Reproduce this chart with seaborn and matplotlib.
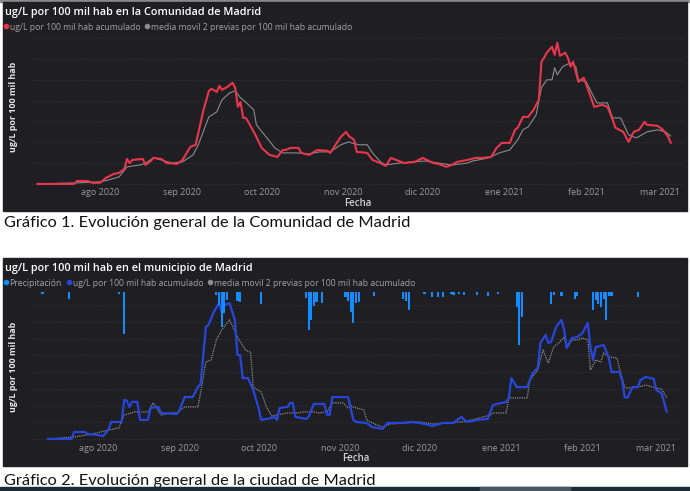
import pandas as pd
import matplotlib.pyplot as plt
from matplotlib.lines import Line2D
from matplotlib.patches import Rectangle
import seaborn as sns

# Style
sns.set_style("dark")
plt.rcParams['font.family'] = ['Open Sans', 'DejaVu Sans']

# ---------------- data ----------------
month_ticks = ["2020-08-01", "2020-09-01", "2020-10-01", "2020-11-01",
               "2020-12-01", "2021-01-01", "2021-02-01", "2021-03-01"]
month_labels = ["ago 2020", "sep 2020", "oct 2020", "nov 2020",
                "dic 2020", "ene 2021", "feb 2021", "mar 2021"]

# Grafico 1 - Comunidad de Madrid
com_fechas = ["2020-07-08", "2020-07-22", "2020-07-23", "2020-07-27", "2020-07-29", "2020-07-31",
              "2020-08-01", "2020-08-03", "2020-08-06", "2020-08-08", "2020-08-10", "2020-08-11",
              "2020-08-12", "2020-08-13", "2020-08-17", "2020-08-18", "2020-08-20", "2020-08-21",
              "2020-08-24", "2020-08-26", "2020-08-30", "2020-09-01", "2020-09-04", "2020-09-06",
              "2020-09-07", "2020-09-09", "2020-09-11", "2020-09-12", "2020-09-14", "2020-09-15",
              "2020-09-16", "2020-09-18", "2020-09-20", "2020-09-21", "2020-09-22", "2020-09-23",
              "2020-09-24", "2020-09-25", "2020-09-27", "2020-09-29", "2020-10-01", "2020-10-04",
              "2020-10-07", "2020-10-09", "2020-10-10", "2020-10-12", "2020-10-15", "2020-10-16",
              "2020-10-19", "2020-10-22", "2020-10-26", "2020-10-27", "2020-10-29", "2020-10-31",
              "2020-11-02", "2020-11-03", "2020-11-05", "2020-11-06", "2020-11-10", "2020-11-12",
              "2020-11-15", "2020-11-17", "2020-11-19", "2020-11-21", "2020-11-24", "2020-11-28",
              "2020-12-01", "2020-12-05", "2020-12-07", "2020-12-10", "2020-12-12", "2020-12-14",
              "2020-12-18", "2020-12-21", "2020-12-24", "2020-12-27", "2020-12-29", "2020-12-31",
              "2021-01-03", "2021-01-05", "2021-01-06", "2021-01-08", "2021-01-10", "2021-01-12",
              "2021-01-14", "2021-01-15", "2021-01-16", "2021-01-17", "2021-01-19", "2021-01-20",
              "2021-01-21", "2021-01-22", "2021-01-24", "2021-01-25", "2021-01-26", "2021-01-27",
              "2021-01-28", "2021-01-29", "2021-01-31", "2021-02-01", "2021-02-04", "2021-02-07",
              "2021-02-09", "2021-02-11", "2021-02-12", "2021-02-15", "2021-02-17", "2021-02-18",
              "2021-02-19", "2021-02-21", "2021-02-23", "2021-02-24", "2021-02-28", "2021-03-02",
              "2021-03-04", "2021-03-05"]
com_acumulado = [0, 0, 1.4, 1.4, 0.5, 0.5,
                 0.7, 2.9, 4.8, 5.3, 7.2, 12,
                 10, 11.5, 12, 9.1, 11, 12.5,
                 12, 10, 9.6, 11.5, 17.8, 18.8,
                 24.5, 35.6, 44.7, 45.7, 44.2, 47.1,
                 45.2, 46.6, 48.6, 46, 37, 39.4,
                 31.7, 31.7, 27.4, 22.6, 17.3, 13.9,
                 13, 16.3, 16.3, 17.3, 17.3, 14.9,
                 13.9, 16.3, 15.9, 14.9, 18.8, 22.6,
                 25, 23, 21.2, 15.4, 14.9, 11.5,
                 10, 8.7, 12.5, 11.5, 10, 10.6,
                 12.5, 10, 9.6, 8.2, 9.1, 10.6,
                 11.5, 12.5, 12.5, 13, 17.3, 19.7,
                 19.7, 26, 27, 32.2, 32.2, 35.6,
                 40.4, 58.7, 60.6, 63, 65.9, 62,
                 67.8, 61.5, 63, 60.6, 56.3, 58.7,
                 53.8, 49, 51, 47.6, 37, 38,
                 37, 30.8, 27, 25, 20.2, 22.6,
                 25, 26, 29.8, 28.4, 27.9, 26,
                 22.6, 19.7]

com_media_fechas = ["2020-07-08", "2020-07-23", "2020-08-01", "2020-08-04", "2020-08-08", "2020-08-11",
                    "2020-08-16", "2020-08-18", "2020-08-21", "2020-08-24", "2020-08-28", "2020-09-01",
                    "2020-09-05", "2020-09-07", "2020-09-11", "2020-09-14", "2020-09-16", "2020-09-19",
                    "2020-09-21", "2020-09-23", "2020-09-24", "2020-09-28", "2020-09-29", "2020-10-03",
                    "2020-10-06", "2020-10-09", "2020-10-14", "2020-10-19", "2020-10-23", "2020-10-27",
                    "2020-10-31", "2020-11-03", "2020-11-04", "2020-11-07", "2020-11-10", "2020-11-12",
                    "2020-11-15", "2020-11-17", "2020-11-22", "2020-11-27", "2020-12-02", "2020-12-07",
                    "2020-12-12", "2020-12-18", "2020-12-20", "2020-12-26", "2020-12-30", "2021-01-03",
                    "2021-01-06", "2021-01-08", "2021-01-10", "2021-01-13", "2021-01-15", "2021-01-17",
                    "2021-01-19", "2021-01-20", "2021-01-21", "2021-01-23", "2021-01-26", "2021-01-28",
                    "2021-01-29", "2021-02-01", "2021-02-03", "2021-02-05", "2021-02-09", "2021-02-11",
                    "2021-02-14", "2021-02-17", "2021-02-20", "2021-02-24", "2021-02-28", "2021-03-03",
                    "2021-03-05"]
com_media = [0, 0.5, 1, 1.9, 3.4, 8.2,
             9.1, 10, 12.5, 11.5, 10, 10.6,
             13.9, 18.8, 32.2, 34.6, 40.4, 43.8,
             44.7, 41.3, 40.4, 35.6, 28.4, 22.1,
             17.3, 14.9, 14.9, 14.4, 15.4, 15.4,
             18.8, 20.2, 19.7, 18.8, 18.8, 14.9,
             10.6, 9.1, 10, 10.6, 11, 10,
             9.1, 10, 11, 12.5, 14.9, 16.3,
             21.2, 26, 27.4, 33.2, 46.2, 50,
             50, 55.8, 52.4, 56.3, 58.2, 56.3,
             50, 49, 43.8, 38.9, 38.9, 31.7,
             31.7, 23.6, 22.1, 25, 26, 25,
             23]

# Grafico 2 - municipio de Madrid
mun_fechas = ["2020-07-13", "2020-07-22", "2020-07-23", "2020-07-27", "2020-07-28", "2020-08-01",
              "2020-08-03", "2020-08-05", "2020-08-06", "2020-08-10", "2020-08-11", "2020-08-12",
              "2020-08-13", "2020-08-14", "2020-08-16", "2020-08-17", "2020-08-20", "2020-08-21",
              "2020-08-24", "2020-08-25", "2020-08-31", "2020-09-01", "2020-09-03", "2020-09-06",
              "2020-09-08", "2020-09-09", "2020-09-11", "2020-09-12", "2020-09-14", "2020-09-16",
              "2020-09-17", "2020-09-18", "2020-09-20", "2020-09-22", "2020-09-23", "2020-09-24",
              "2020-09-25", "2020-09-27", "2020-09-29", "2020-10-01", "2020-10-02", "2020-10-06",
              "2020-10-07", "2020-10-08", "2020-10-09", "2020-10-12", "2020-10-13", "2020-10-14",
              "2020-10-15", "2020-10-19", "2020-10-20", "2020-10-22", "2020-10-26", "2020-10-27",
              "2020-10-28", "2020-10-29", "2020-11-04", "2020-11-06", "2020-11-07", "2020-11-11",
              "2020-11-13", "2020-11-17", "2020-11-19", "2020-11-24", "2020-11-28", "2020-12-01",
              "2020-12-03", "2020-12-06", "2020-12-10", "2020-12-14", "2020-12-17", "2020-12-19",
              "2020-12-23", "2020-12-27", "2020-12-28", "2020-12-29", "2021-01-03", "2021-01-04",
              "2021-01-05", "2021-01-07", "2021-01-11", "2021-01-13", "2021-01-15", "2021-01-16",
              "2021-01-18", "2021-01-19", "2021-01-20", "2021-01-22", "2021-01-24", "2021-01-25",
              "2021-01-26", "2021-01-28", "2021-01-30", "2021-02-01", "2021-02-03", "2021-02-04",
              "2021-02-05", "2021-02-06", "2021-02-09", "2021-02-11", "2021-02-12", "2021-02-15",
              "2021-02-16", "2021-02-17", "2021-02-18", "2021-02-20", "2021-02-22", "2021-02-23",
              "2021-02-25", "2021-02-28", "2021-03-01", "2021-03-03", "2021-03-05"]
mun_acumulado = [0, 0, 4.2, 4.2, 3, 2.4,
                 1.8, 5.4, 10.2, 10.2, 23.4, 23,
                 19.2, 22.2, 22.2, 11.4, 11.4, 18.6,
                 19.2, 15.6, 15, 17.4, 25.1, 25.1,
                 31.1, 33, 67, 68.3, 76, 81.4,
                 76, 80.2, 81.4, 71.3, 50.3, 50.3,
                 36.5, 36.5, 29.3, 18.6, 11.4, 12.6,
                 13.2, 11.4, 18.6, 19.2, 21.6, 21.6,
                 13.2, 12, 13.2, 21, 21, 14.4,
                 14.4, 25.1, 25.1, 11.4, 10.2, 9.6,
                 7.2, 6, 9.6, 9.6, 10.2, 9.6,
                 9, 7.8, 9.6, 9.6, 13.2, 10.2,
                 11.4, 12, 16.2, 20.4, 22.2, 24.6,
                 36.5, 31.1, 31.1, 39.5, 42.5, 57.5,
                 62.3, 57.5, 58, 67, 71.3, 65.3,
                 54.5, 60.5, 61, 63.5, 69.5, 55,
                 47.3, 55, 56.3, 48.5, 40.1, 40.1,
                 35.3, 25.1, 24.6, 31.1, 31.1, 35.3,
                 37.1, 36, 29.3, 27.5, 16.2]

mun_media_fechas = ["2020-07-13", "2020-07-23", "2020-07-30", "2020-08-05", "2020-08-09", "2020-08-11",
                    "2020-08-15", "2020-08-20", "2020-08-22", "2020-08-25", "2020-08-29", "2020-08-31",
                    "2020-09-03", "2020-09-08", "2020-09-09", "2020-09-11", "2020-09-13", "2020-09-15",
                    "2020-09-17", "2020-09-20", "2020-09-22", "2020-09-23", "2020-09-26", "2020-09-28",
                    "2020-09-29", "2020-10-02", "2020-10-04", "2020-10-06", "2020-10-08", "2020-10-12",
                    "2020-10-16", "2020-10-18", "2020-10-22", "2020-10-24", "2020-10-27", "2020-10-29",
                    "2020-11-02", "2020-11-04", "2020-11-05", "2020-11-07", "2020-11-10", "2020-11-11",
                    "2020-11-14", "2020-11-17", "2020-11-20", "2020-11-26", "2020-12-01", "2020-12-06",
                    "2020-12-12", "2020-12-17", "2020-12-21", "2020-12-28", "2020-12-29", "2021-01-03",
                    "2021-01-04", "2021-01-11", "2021-01-12", "2021-01-15", "2021-01-17", "2021-01-19",
                    "2021-01-21", "2021-01-23", "2021-01-25", "2021-01-26", "2021-01-28", "2021-01-30",
                    "2021-02-01", "2021-02-03", "2021-02-04", "2021-02-06", "2021-02-08", "2021-02-09",
                    "2021-02-11", "2021-02-14", "2021-02-16", "2021-02-17", "2021-02-18", "2021-02-22",
                    "2021-02-25", "2021-03-01", "2021-03-03", "2021-03-05"]
mun_media = [0, 1.2, 3, 5.4, 6.6, 14.4,
             16.2, 16.2, 21.6, 14.4, 15.6, 15.6,
             19.2, 19.2, 27.5, 46.1, 47.3, 59.3,
             65.3, 71.3, 64.7, 61, 53.3, 52,
             31.1, 28.1, 19.2, 13.8, 14.4, 15.6,
             15.6, 16.2, 16.2, 15.6, 16.2, 21.6,
             21.6, 18.6, 19.8, 18.6, 17.4, 11.4,
             9, 7.2, 9, 9.6, 10.2, 9,
             9.6, 10.2, 11.4, 14.4, 15.6, 15.6,
             24.6, 24.6, 35.3, 41.3, 53.3, 45.5,
             55, 57.5, 61, 54.5, 59.3, 59.3,
             60.5, 59.3, 41.3, 47.3, 46.1, 51.5,
             49.1, 48.5, 36.5, 31.1, 30.5, 31.1,
             32.3, 30.5, 30, 24.6]

precip_fechas = ["2020-07-11", "2020-07-21", "2020-08-09", "2020-08-11", "2020-09-15", "2020-09-16",
                 "2020-09-17", "2020-09-18", "2020-09-19", "2020-09-23", "2020-09-24", "2020-10-02",
                 "2020-10-19", "2020-10-20", "2020-10-21", "2020-10-22", "2020-10-23", "2020-10-25",
                 "2020-11-03", "2020-11-04", "2020-11-05", "2020-11-06", "2020-11-07", "2020-11-08",
                 "2020-11-14", "2020-11-25", "2020-11-26", "2020-11-27", "2020-12-03", "2020-12-06",
                 "2020-12-08", "2020-12-10", "2020-12-13", "2020-12-14", "2020-12-16", "2020-12-18",
                 "2020-12-23", "2020-12-27", "2020-12-31", "2021-01-07", "2021-01-08", "2021-01-09",
                 "2021-01-20", "2021-01-21", "2021-01-24", "2021-01-29", "2021-01-30", "2021-02-05",
                 "2021-02-06", "2021-02-07", "2021-02-08", "2021-02-09", "2021-02-10", "2021-02-11",
                 "2021-02-12", "2021-02-22"]
precipitacion = [1, 3.5, 1, 21, 1.5, 6.5,
                 17.5, 10.5, 4, 4.5, 5, 6,
                 3, 19, 14, 7, 5, 5.5,
                 2.5, 4.5, 10, 15.5, 5.5, 5,
                 2, 3.5, 4.5, 9, 1, 2.5,
                 2.5, 2.5, 1, 1.5, 1, 1.5,
                 1.5, 2, 1, 7.5, 26.5, 12.5,
                 6, 1.5, 2, 3.5, 2, 9,
                 4, 6, 7.5, 3.5, 14, 2,
                 2, 2.5]

# ---------------- style ----------------
PANEL = "#1f1e23"
RED = "#e8374d"
BLUE = "#2747dc"
SKY = "#118dff"
GREY = "#8c8c8c"
TICK = "#9b9b9b"
W, H = 690, 491


def box(left, top, right, bottom):
    return [left / W, 1 - bottom / H, (right - left) / W, (bottom - top) / H]


fig = plt.figure(figsize=(W / 100, H / 100), dpi=100, facecolor="white")

# screenshot edges and the two dark panels
fig.add_artist(Rectangle((0, 1 - 2 / H), 1, 2 / H, transform=fig.transFigure, color="#8a8a8a", zorder=0))
fig.add_artist(Rectangle((3 / W, 1 - 211 / H), 684 / W, 209 / H, transform=fig.transFigure, color=PANEL, zorder=0))
fig.add_artist(Rectangle((3 / W, 1 - 466 / H), 684 / W, 208 / H, transform=fig.transFigure, color=PANEL, zorder=0))
fig.add_artist(Rectangle((0, 0), 1, 4 / H, transform=fig.transFigure, color="#1d2a33", zorder=5))
fig.add_artist(Rectangle((480 / W, 0), 90 / W, 4 / H, transform=fig.transFigure, color="#4a5661", zorder=6))


def style_axes(ax, ylim, xlim):
    ax.set_facecolor(PANEL)
    ax.set_xlim(pd.Timestamp(xlim[0]), pd.Timestamp(xlim[1]))
    ax.set_ylim(*ylim)
    ax.set_yticks(range(0, int(ylim[1]) + 1, 10))
    ax.set_yticklabels([])
    ax.set_xticks(pd.to_datetime(month_ticks))
    ax.set_xticklabels(month_labels, color=TICK, fontsize=6.5)
    ax.tick_params(axis="both", length=0, pad=1.5)
    ax.yaxis.grid(True, color="#38373e", linestyle=(0, (1, 1.5)), linewidth=0.6)
    ax.xaxis.grid(False)
    for s in ax.spines.values():
        s.set_visible(False)
    ax.set_xlabel("Fecha", color="#d0d0d0", fontsize=7, fontweight="semibold", labelpad=0.5)
    ax.set_ylabel("ug/L por 100 mil hab", color="#e6e6e6", fontsize=6.4, fontweight="bold")


# ---------- Grafico 1 ----------
ax1 = fig.add_axes(box(32, 34, 684, 186))
df_com = pd.DataFrame({"fecha": pd.to_datetime(com_fechas), "valor": com_acumulado})
df_com_m = pd.DataFrame({"fecha": pd.to_datetime(com_media_fechas), "valor": com_media})
sns.lineplot(data=df_com_m, x="fecha", y="valor", ax=ax1, color=GREY, linewidth=0.8)
sns.lineplot(data=df_com, x="fecha", y="valor", ax=ax1, color=RED, linewidth=1.5)
style_axes(ax1, (-1, 72), ("2020-07-06", "2021-03-10"))
ax1.yaxis.set_label_coords(-0.021, 0.52)

fig.text(5 / W, 1 - 13 / H, "ug/L por 100 mil hab en la Comunidad de Madrid", color="white",
         fontsize=7.8, fontweight="semibold", va="center")
h1 = [Line2D([], [], marker="o", ls="none", color=RED, markersize=3),
      Line2D([], [], marker="o", ls="none", color=GREY, markersize=3)]
fig.legend(h1, ["ug/L por 100 mil hab acumulado", "media movil 2 previas por 100 mil hab acumulado"],
           loc="center left", bbox_to_anchor=(4 / W, 1 - 27 / H), ncol=2, frameon=False,
           fontsize=6.2, labelcolor="#a3a3a3", handlelength=0.4, handletextpad=0.25,
           columnspacing=0.6, borderpad=0, borderaxespad=0)

fig.text(4 / W, 1 - 223 / H, "Gráfico 1. Evolución general de la Comunidad de Madrid",
         family=["Lato", "DejaVu Sans"], fontsize=11.8, color="#111111", va="center")

# ---------- Grafico 2 ----------
ax2 = fig.add_axes(box(32, 292, 680, 441.5))
df_mun = pd.DataFrame({"fecha": pd.to_datetime(mun_fechas), "valor": mun_acumulado})
df_mun_m = pd.DataFrame({"fecha": pd.to_datetime(mun_media_fechas), "valor": mun_media})
sns.lineplot(data=df_mun_m, x="fecha", y="valor", ax=ax2, color=GREY, linewidth=0.9, linestyle=(0, (1, 0.8)))
sns.lineplot(data=df_mun, x="fecha", y="valor", ax=ax2, color=BLUE, linewidth=1.6)
style_axes(ax2, (-1.5, 88), ("2020-07-07", "2021-03-10"))
ax2.yaxis.set_label_coords(-0.021, 0.5)

# precipitation hangs from the top on a reversed secondary axis
ax2b = ax2.twinx()
ax2b.bar(pd.to_datetime(precip_fechas), precipitacion, width=0.8, color=SKY, linewidth=0)
ax2b.set_ylim(75, 0)
ax2b.set_yticks([])
ax2b.set_ylabel("")
for s in ax2b.spines.values():
    s.set_visible(False)

fig.text(5 / W, 1 - 268 / H, "ug/L por 100 mil hab en el municipio de Madrid", color="white",
         fontsize=7.8, fontweight="semibold", va="center")
h2 = [Line2D([], [], marker="o", ls="none", color=SKY, markersize=3),
      Line2D([], [], marker="o", ls="none", color=BLUE, markersize=3),
      Line2D([], [], marker="o", ls="none", color=GREY, markersize=3)]
fig.legend(h2, ["Precipitación", "ug/L por 100 mil hab acumulado",
                "media movil 2 previas por 100 mil hab acumulado"],
           loc="center left", bbox_to_anchor=(4 / W, 1 - 283 / H), ncol=3, frameon=False,
           fontsize=6.2, labelcolor="#a3a3a3", handlelength=0.4, handletextpad=0.25,
           columnspacing=0.6, borderpad=0, borderaxespad=0)

fig.text(4 / W, 1 - 481 / H, "Gráfico 2. Evolución general de la ciudad de Madrid",
         family=["Lato", "DejaVu Sans"], fontsize=11.8, color="#111111", va="center")

plt.savefig("out.png", dpi=100, facecolor="white")
